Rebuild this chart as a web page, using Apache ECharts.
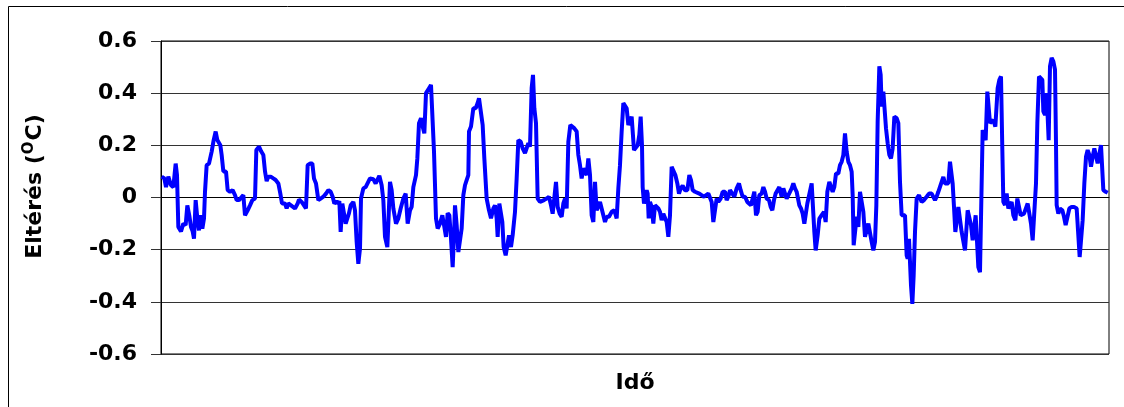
<!DOCTYPE html>
<html>
<head>
<meta charset="utf-8">
<title>Eltérés</title>
<script src="https://cdn.jsdelivr.net/npm/echarts@6/dist/echarts.min.js"></script>
<style>
  html, body { margin: 0; padding: 0; background: #fff; }
  #chart { width: 1124px; height: 407px; }
</style>
</head>
<body>
<div id="chart"></div>
<script>
// idő (mintavételi index) és eltérés (°C)
const ido = [
  0.33, 1.67, 2.5, 3.67, 5, 6.17, 7.33, 8, 8.67, 10, 11.17, 12.33, 13.17, 14.17, 15, 15.83, 16.5, 17.33, 18.17, 19,
  19.83, 20.67, 21.5, 22, 22.83, 24, 25.33, 26.33, 27.33, 28.17, 29, 29.67, 30.33, 31.17, 32.5, 33.33, 34.5, 35.83, 37, 37.83,
  39, 40, 41.17, 42, 43.33, 44.5, 45.67, 47, 47.67, 49, 50, 51.17, 52, 52.83, 53.67, 54.83, 56.17, 57.33, 58.67, 59.67,
  60.5, 62, 62.83, 63.67, 65, 66, 67, 68.33, 69, 70.33, 71.5, 72.5, 73.33, 74.5, 75.67,
  76.5, 77.5, 78.67, 79.83, 81.17, 82.5, 83.67, 84.83, 85.83, 86.67, 87.83, 88.67, 89.17, 89.83, 90.67, 91.5, 92.33, 93.17, 94, 94.83,
  96.17, 97, 97.83, 98.67, 99.5, 100, 101.17, 102.33, 103.17, 104.5, 106.17, 107.33, 108.17, 109.17, 110.33, 111.17, 112, 113.17, 113.83, 114.5,
  115.33, 116.17, 117.5, 118.67, 119.83, 121.17, 122.33, 123.33, 124.5, 125.33, 126.17, 127.5, 128.17, 129, 130, 130.83, 131.67, 132.5, 133.33, 134.17,
  135, 135.67, 136.5, 137.5, 138.33, 139.5, 140.67, 141.67, 142.5, 143.33, 144.17, 145, 145.83, 146.5, 147, 147.83, 148.67, 149.5, 150.33, 151.17, 152,
  152.83, 153.67, 154, 155, 156.17, 157.33, 158.33, 159, 160, 160.83, 161.67, 162.83, 164, 165, 166.17, 167, 167.83, 168.33, 169.17, 170,
  170.67, 171.33, 172.33, 173.17, 174, 175, 175.83, 177, 177.83, 178.67, 179.83, 180.83, 182, 182.83, 183.67, 184.5, 185.33, 186, 186.67, 187.5,
  188.33, 189.5, 190.33, 191.5, 192.83, 194, 195, 195.83, 196.67, 197.5, 198.33, 199.33, 200.33, 201.17, 202, 202.83, 203.67, 204.67, 205.67, 206.67,
  207.83, 208.67, 209.5, 210.33, 211.17, 212, 212.83, 213.67, 214.5, 215.33, 216.17, 217, 217.83, 218.67, 219.5, 220.33, 221.17, 222, 222.83, 224,
  225.33, 226.67, 227.83, 228.67, 229.5, 230.33, 231.17, 232,
  232.83, 233.67, 234.5, 235.33, 235.83, 236.5, 237.5, 238.33, 239.17, 239.83, 240.5, 240.83, 241.5, 242.17, 242.83, 243.33, 243.83, 244.5, 245.33, 246.17,
  247, 247.83, 248.67, 249.5, 250.33, 251.17, 252, 252.83, 253.67, 254.5, 255.33, 256.17, 257.17, 258.17, 259, 259.83, 260.83, 262, 263.17, 264.17,
  265, 265.83, 267, 267.83, 269.17, 270.33, 271.5, 272.5, 273.67, 274.5, 275.33, 276.17, 277, 277.83, 278.67, 279.83, 280.83, 282, 282.83, 283.67,
  284.5, 285.67, 286.67, 287.83, 289, 289.83, 290.83, 292, 293.17, 294.17, 295, 295.83, 296.67, 297.5, 298.33, 299.17, 300.33, 301.17, 302, 302.83,
  304, 304.83, 305.67, 306.5, 307.33, 308.17, 309.17,
  309.5, 310.33, 311.17, 312, 312.83, 313.67, 314.5, 315.33, 316.17, 317, 317.83, 318.67, 319.17, 320, 320.83, 321.67, 322.33, 323.17, 324.17, 325.33,
  326.17, 326.67, 327.33, 328.33, 329.17, 330.33, 331.5, 332.33, 333.17, 334.17, 335, 335.83, 336.67, 337.5, 338.67, 339.5, 340.33, 341.17, 342, 342.83,
  343.67, 344.5, 345.33, 345.83, 346.33, 347, 347.83, 348.67, 349.5, 350.33, 351.17, 352, 352.83, 353.67, 354.5, 355.33, 356.17, 357, 357.67, 358.33,
  359.17, 359.83, 360.33, 361.17, 362, 362.5, 363.33, 364.17, 365, 365.83, 366.67, 367.83, 368.67, 369.5, 370.33, 371.17, 372, 372.83, 373.33, 374,
  374.5, 375, 375.67, 376.33, 377, 377.83, 379, 380.33, 381.5, 382.83, 384, 385.33,
  385.83, 387, 387.83, 388.67, 389.5, 390.33, 391.17, 392, 392.83, 393.67, 394.5, 395.33, 395.83, 396.5, 397.17, 397.83, 398.67, 399.5, 400.33, 401.17,
  402, 402.83, 403.33, 404.17, 405, 405.83, 406.67, 407.33, 408.17, 408.67, 409.5, 410.33, 410.83, 411.67, 412.33, 413.17, 413.83, 414.5, 415.5, 416.17,
  417.17, 417.83, 418.33, 419.17, 420, 420.67, 421.17, 422, 422.83, 423.67, 424.5, 425.33, 426.17, 427.17, 428.17, 429, 429.83, 430.67, 431.5, 432.5,
  433.33, 434.17, 435, 435.83, 436.67, 437.5, 438.17, 439, 440, 440.67, 441.17, 442, 442.83, 443.33, 443.83, 444.5, 445.33, 446.17, 447, 447.5,
  447.83, 448.67, 449.5, 450.67, 451.5, 452.33, 453.17, 454.17, 455.33, 456.5, 457.83, 458.67, 459.33, 460.17, 460.83, 461.67, 462.5, 463.33, 464.17, 465,
  465.83, 466.67, 467.5, 468.33, 469.17, 470, 470.67, 471.17, 472.33, 473.33
]

const elteres = [
  0.08, 0.073, 0.04, 0.08, 0.047, 0.04, 0.13, 0.086, -0.113, -0.13, -0.1, -0.106, -0.03, -0.07, -0.113, -0.13, -0.158, -0.01, -0.08, -0.126,
  -0.068, -0.12, -0.08, 0.022, 0.124, 0.13, 0.176, 0.22, 0.253, 0.22, 0.227, 0.2, 0.163, 0.1, 0.1, 0.028, 0.022, 0.028, 0.009, -0.01,
  -0.01, -0.004, 0.009, -0.068, -0.049, -0.03, -0.01, -0.004, 0.182, 0.195, 0.178, 0.163, 0.1, 0.063, 0.08, 0.08, 0.073, 0.067, 0.054, 0.015,
  -0.023, -0.023, -0.042, -0.023, -0.03, -0.027, -0.042, -0.023, -0.008, -0.017, -0.03, -0.042, 0.124, 0.13, 0.13,
  0.073, 0.054, -0.01, -0.004, 0.003, 0.015, 0.028, 0.022, 0.003, -0.023, -0.014, -0.023, -0.014, -0.132, -0.023, -0.017, -0.1, -0.1, -0.06, -0.03,
  -0.017, -0.049, -0.17, -0.254, -0.196, -0.004, 0.035, 0.04, 0.035, 0.073, 0.07, 0.054, 0.058, 0.083, 0.047, -0.01, -0.151, -0.19, -0.068, 0.06,
  0.028, -0.042, -0.1, -0.08, -0.042, -0.004, 0.015, -0.1, -0.049, -0.036, 0.04, 0.086, 0.15, 0.285, 0.304, 0.272, 0.246, 0.4, 0.4, 0.42,
  0.432, 0.432, 0.176, -0.08, -0.119, -0.1, -0.068, -0.113, -0.151, -0.06, -0.068, -0.158, -0.267, -0.145, -0.03, -0.106, -0.209, -0.209, -0.119, 0.009, 0.047,
  0.067, 0.086, 0.253, 0.272, 0.342, 0.342, 0.362, 0.38, 0.38, 0.278, 0.15, -0.004, -0.049, -0.08, -0.042, -0.03, -0.08, -0.151, -0.023, -0.017,
  -0.094, -0.19, -0.222, -0.228, -0.145, -0.19, -0.145, -0.055, 0.073, 0.22, 0.214, 0.188, 0.17, 0.176, 0.208, 0.195, 0.42, 0.47, 0.342, 0.285,
  -0.004, -0.017, -0.023, -0.01, -0.004, 0.003, -0.03, -0.062, -0.055, 0.06, -0.036, -0.062, -0.074, -0.023, -0.004, -0.042, 0.214, 0.278, 0.278, 0.265,
  0.253, 0.163, 0.124, 0.073, 0.112, 0.118, 0.086, 0.15, 0.086, -0.068, -0.094, 0.06, -0.049, -0.055, -0.017, -0.023, -0.068, -0.094, -0.074, -0.074,
  -0.055, -0.049, -0.08, 0.035, 0.124, 0.253, 0.362, 0.368,
  0.342, 0.278, 0.272, 0.31, 0.304, 0.182, 0.182, 0.2, 0.24, 0.31, 0.2, 0.04, -0.023, -0.017, 0.028, 0.015, -0.08, -0.017, -0.036, -0.1,
  -0.03, -0.036, -0.042, -0.055, -0.087, -0.062, -0.068, -0.094, -0.151, -0.068, 0.118, 0.118, 0.086, 0.054, 0.015, 0.035, 0.045, 0.028, 0.028, 0.086,
  0.067, 0.028, 0.022, 0.015, 0.015, 0.009, 0.003, -0.004, 0.015, 0.015, -0.017, -0.094, -0.1, -0.004, -0.017, -0.004, 0.022, 0.022, -0.01, 0.003,
  0.028, 0.015, 0.003, 0.035, 0.054, 0.028, 0.003, 0.003, -0.017, -0.01, -0.03, -0.036, 0.022, -0.068, -0.055, 0.009, 0.015, 0.04, 0.022, -0.004,
  -0.01, -0.036, -0.049, -0.01, 0.015, 0.022, 0.04,
  0.028, 0.003, 0.035, 0.028, -0.004, 0.003, 0.022, 0.035, 0.054, 0.035, 0.022, 0.022, -0.03, -0.042, -0.062, -0.1, -0.1, -0.023, -0.017, 0.054,
  0.054, -0.132, -0.203, -0.145, -0.081, -0.068, -0.055, -0.094, 0.022, 0.06, 0.06, 0.022, 0.041, 0.092, 0.092, 0.124, 0.137, 0.163, 0.246, 0.176,
  0.137, 0.124, 0.099, 0.009, -0.183, -0.183, -0.074, -0.113, 0.022, 0.015, -0.055, -0.151, -0.151, -0.1, -0.106, -0.17, -0.203, -0.17, -0.03, 0.291,
  0.503, 0.47, 0.349, 0.406, 0.413, 0.265, 0.208, 0.163, 0.15, 0.188, 0.31, 0.304, 0.285, 0.06, -0.068, -0.074, -0.068, -0.222, -0.235, -0.158,
  -0.151, -0.337, -0.408, -0.299, -0.132, -0.004, 0.009, -0.017, -0.01, 0.003, 0.015, 0.015,
  0.013, -0.01, 0.003, 0.022, 0.041, 0.06, 0.079, 0.054, 0.047, 0.054, 0.137, 0.144, 0.054, -0.036, -0.132, -0.126, -0.036, -0.029, -0.132, -0.138,
  -0.203, -0.203, -0.049, -0.055, -0.106, -0.164, -0.164, -0.068, -0.074, -0.267, -0.286, -0.292, 0.259, 0.265, 0.22, 0.406, 0.4, 0.285, 0.285, 0.297,
  0.272, 0.265, 0.419, 0.451, 0.464, 0.182, -0.017, -0.029, 0.015, -0.042, -0.049, -0.017, -0.068, -0.087, -0.004, -0.004, -0.068, -0.068, -0.062, -0.062,
  -0.023, -0.023, -0.1, -0.164, -0.158, 0.054, 0.285, 0.464, 0.458, 0.451, 0.33, 0.317, 0.4, 0.31, 0.22, 0.503, 0.535, 0.522, 0.49, 0.208,
  -0.029, -0.062, -0.042, -0.049, -0.074, -0.106, -0.106, -0.042, -0.036, -0.036, -0.042, -0.042, -0.228, -0.235, -0.087, 0.054, 0.156, 0.182, 0.163, 0.118,
  0.156, 0.188, 0.188, 0.131, 0.131, 0.201, 0.208, 0.028, 0.022, 0.018
]

const yTicks = { min: -0.6, max: 0.6, step: 0.2 }
const xRange = { min: 0, max: 474 }

const chart = echarts.init(document.getElementById('chart'))
const font = 'DejaVu Sans, Arial, sans-serif'

chart.setOption({
  animation: false,
  backgroundColor: '#fff',
  grid: {
    left: 161,
    top: 41,
    right: 15,
    bottom: 53,
    show: true,
    borderColor: '#000',
    borderWidth: 1,
  },
  graphic: [{
    // külső keret
    type: 'rect',
    shape: { x: 8.5, y: 6.5, width: 1300, height: 600 },
    style: { fill: 'none', stroke: '#000', lineWidth: 1 },
    silent: true,
  }],
  xAxis: {
    type: 'value',
    min: xRange.min,
    max: xRange.max,
    name: 'Idő',
    nameLocation: 'middle',
    nameGap: 18,
    nameTextStyle: { fontFamily: font, fontWeight: 'bold', fontSize: 22, color: '#000' },
    axisLine: { show: true, lineStyle: { color: '#000', width: 1 } },
    axisTick: { show: false },
    axisLabel: { show: false },
    splitLine: { show: false },
  },
  yAxis: {
    type: 'value',
    min: yTicks.min,
    max: yTicks.max,
    interval: yTicks.step,
    name: '{t|Eltérés (}{s|O}{t|C)}',
    nameLocation: 'middle',
    nameRotate: 90,
    nameGap: 112,
    nameTextStyle: {
      padding: [0, 0, 0, 22],
      rich: {
        t: { fontFamily: font, fontWeight: 'bold', fontSize: 22, color: '#000' },
        s: { fontFamily: font, fontWeight: 'bold', fontSize: 15, color: '#000', padding: [0, 1, 12, 0] },
      },
    },
    axisLine: { show: true, lineStyle: { color: '#000', width: 1 } },
    axisTick: { show: true, inside: false, length: 10, lineStyle: { color: '#333' } },
    axisLabel: {
      margin: 24,
      fontFamily: font,
      fontWeight: 'bold',
      fontSize: 22,
      color: '#000',
      formatter: v => String(+v.toFixed(1)),
    },
    splitLine: { show: true, lineStyle: { color: '#333', width: 1 } },
  },
  series: [{
    type: 'line',
    data: ido.map((t, i) => [t, elteres[i]]),
    showSymbol: false,
    lineStyle: { color: '#0000ff', width: 4 },
    itemStyle: { color: '#0000ff' },
  }],
})
</script>
</body>
</html>
